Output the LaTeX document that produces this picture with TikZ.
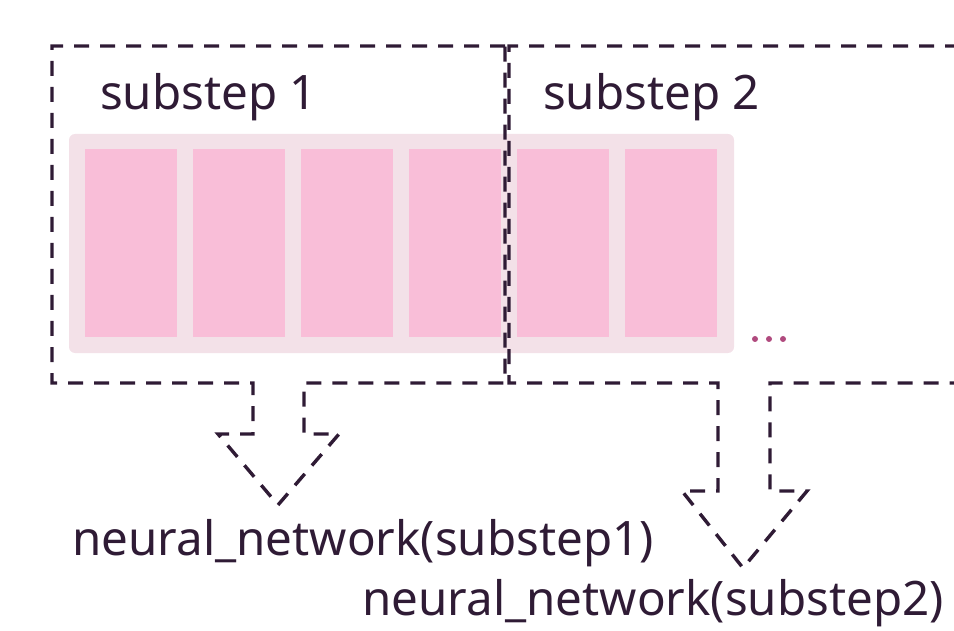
\documentclass[tikz,border=0pt]{standalone}
\usepackage{fontspec}
\setmainfont{Noto Sans}
\definecolor{ink}{HTML}{2F1B35}
\definecolor{trackbg}{HTML}{F3E1E8}
\definecolor{cellpink}{HTML}{F9BED8}
\definecolor{dotcol}{HTML}{B04A7E}
\begin{document}
\begin{tikzpicture}[x=1pt,y=-1pt,
  dashbox/.style={draw=ink,line width=3.4pt,dash pattern=on 15pt off 11pt,line join=miter},
  lbl/.style={text=ink,font=\fontsize{47.5}{56}\selectfont,inner sep=0pt,anchor=base west}]
\useasboundingbox (0,0) rectangle (954,631);
% track
\fill[trackbg,rounded corners=6pt] (69,134) rectangle (734,353);
\foreach \i in {0,...,5}{
  \fill[cellpink] ({85+108*\i},149) rectangle ({177+108*\i},337);
}
% dots
\foreach \dx in {0,14,28}{
  \fill[dotcol] ({755+\dx},339) circle (3pt);
}
% dashed box 1 with arrow
\draw[dashbox] (505,46) -- (52,46) -- (52,383) -- (253,383) -- (253,434) -- (218,434)
  -- (278,505) -- (339,434) -- (304,434) -- (304,383) -- (505,383) -- cycle;
% dashed box 2 with arrow
\draw[dashbox] (960,46) -- (509,46) -- (509,383) -- (718,383) -- (718,491) -- (682,491)
  -- (743,568) -- (807,491) -- (770,491) -- (770,383) -- (960,383);
% labels
\node[lbl] (s1) at (100,110) {substep 1};
\node[lbl] (s2) at (543,110) {substep 2};
\node[lbl] (n1) at (72,555) {neural\_network(substep1)};
\node[lbl] (n2) at (362,615) {neural\_network(substep2)};
\end{tikzpicture}
\end{document}
